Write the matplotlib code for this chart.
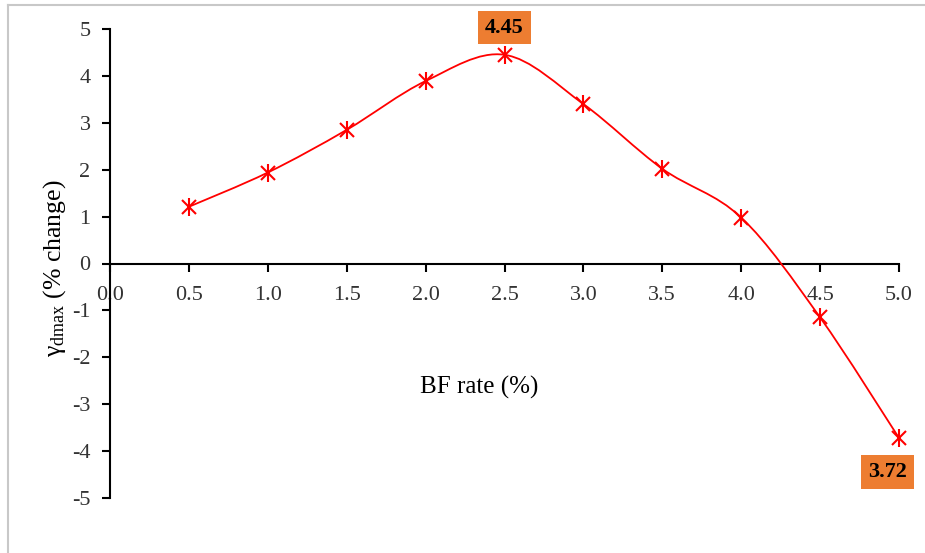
import matplotlib
matplotlib.use("Agg")
import matplotlib.pyplot as plt
from matplotlib.path import Path
from matplotlib.patches import PathPatch
from matplotlib.lines import Line2D

plt.rcParams["font.family"] = ["Liberation Serif", "DejaVu Serif"]
plt.rcParams["mathtext.fontset"] = "custom"
plt.rcParams["mathtext.rm"] = "Liberation Serif"
plt.rcParams["mathtext.it"] = "Liberation Serif:italic"

bf_rate = [0.5, 1.0, 1.5, 2.0, 2.5, 3.0, 3.5, 4.0, 4.5, 5.0]
gamma_change = [1.21, 1.94, 2.85, 3.89, 4.45, 3.40, 2.02, 0.98, -1.15, -3.72]
x_ticks = [0.0, 0.5, 1.0, 1.5, 2.0, 2.5, 3.0, 3.5, 4.0, 4.5, 5.0]
y_ticks = [-5, -4, -3, -2, -1, 0, 1, 2, 3, 4, 5]
peak_label = "4.45"
end_label = "3.72"

RED = "#FF0000"
ORANGE = "#ED7D31"

W, H = 925, 553
fig = plt.figure(figsize=(W / 100, H / 100), dpi=100)
ax = fig.add_axes([110 / W, 1 - 498 / H, (899 - 110) / W, (498 - 29) / H])

# frame around the picture (left and top edges)
fig.add_artist(Line2D([8 / W, 8 / W], [0, 1 - 5 / H], color="#C8C8C8", lw=1.5))
fig.add_artist(Line2D([8 / W, 1], [1 - 5 / H, 1 - 5 / H], color="#C8C8C8", lw=1.5))


def smooth_path(xs, ys):
    # Excel-style smoothed line: cubic Bezier through the points
    pts = list(zip(xs, ys))
    n = len(pts)
    verts = [pts[0]]
    codes = [Path.MOVETO]
    for i in range(n - 1):
        p0 = pts[i - 1] if i > 0 else pts[i]
        p1 = pts[i]
        p2 = pts[i + 1]
        p3 = pts[i + 2] if i + 2 < n else pts[i + 1]
        c1 = (p1[0] + (p2[0] - p0[0]) / 6, p1[1] + (p2[1] - p0[1]) / 6)
        c2 = (p2[0] - (p3[0] - p1[0]) / 6, p2[1] - (p3[1] - p1[1]) / 6)
        verts += [c1, c2, p2]
        codes += [Path.CURVE4] * 3
    return Path(verts, codes)


ax.add_patch(PathPatch(smooth_path(bf_rate, gamma_change), fill=False,
                       edgecolor=RED, lw=1.3, zorder=3, clip_on=False))
ax.plot(bf_rate, gamma_change, ls="none", marker="x", ms=10.5, mew=1.5,
        color=RED, zorder=4, clip_on=False)
ax.plot(bf_rate, gamma_change, ls="none", marker="|", ms=13, mew=1.5,
        color=RED, zorder=4, clip_on=False)

ax.set_xlim(0, 5)
ax.set_ylim(-5, 5)
ax.set_xticks(x_ticks)
ax.set_xticklabels([f"{v:.1f}" for v in x_ticks])
ax.set_yticks(y_ticks)
ax.set_yticklabels([str(v) for v in y_ticks])

ax.spines["top"].set_visible(False)
ax.spines["right"].set_visible(False)
ax.spines["bottom"].set_position(("data", 0))
for s in ("left", "bottom"):
    ax.spines[s].set_linewidth(1.5)
ax.tick_params(axis="both", direction="out", length=6, width=1.5,
               labelsize=16, colors="black", labelcolor="#333333")
ax.tick_params(axis="x", pad=10)
ax.tick_params(axis="y", pad=8)

ax.text(0.468, 0.235, "BF rate (%)", transform=ax.transAxes, ha="center",
        va="center", fontsize=18)
fig.text(55 / W, 1 - 268 / H, r"$\mathrm{γ}_{\mathrm{dmax}}$ (% change)",
         rotation=90, ha="center", va="center", fontsize=18.5)

box = dict(boxstyle="square,pad=0.3", facecolor=ORANGE, edgecolor="none")
ax.annotate(peak_label, xy=(bf_rate[4], gamma_change[4]), xytext=(0, 19.5),
            textcoords="offset points", ha="center", va="center",
            fontsize=16, fontweight="bold", bbox=box)
ax.annotate(end_label, xy=(bf_rate[9], gamma_change[9]), xytext=(-8.3, -24.5),
            textcoords="offset points", ha="center", va="center",
            fontsize=16, fontweight="bold", bbox=box)

fig.savefig("out.png", dpi=100)
